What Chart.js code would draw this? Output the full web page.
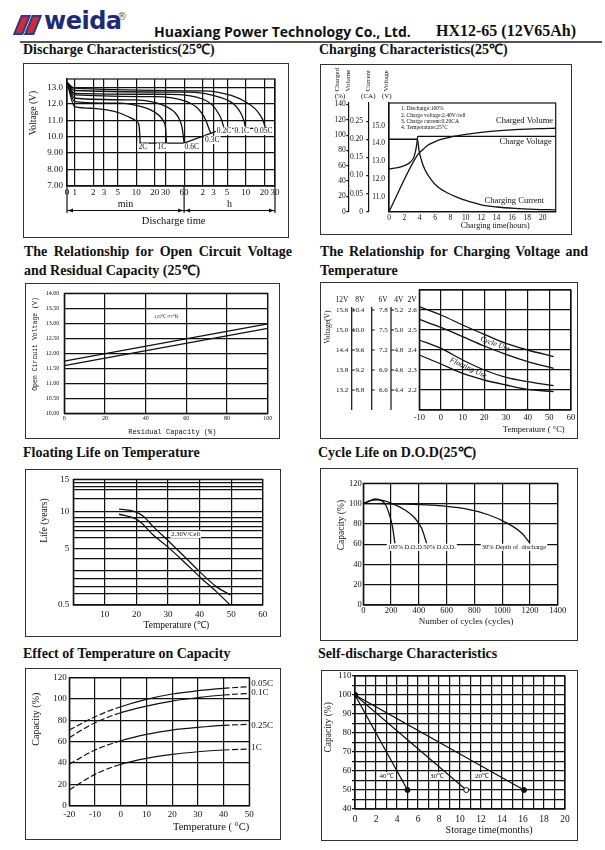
<!DOCTYPE html>
<html>
<head>
<meta charset="utf-8">
<title>HX12-65 (12V65Ah)</title>
<script src="https://cdn.jsdelivr.net/npm/chart.js@4.4.1/dist/chart.umd.min.js"></script>
<style>
  body { margin: 0; width: 605px; height: 850px; position: relative; background: #fff; overflow: hidden; color: #111; }
  .frame { position: absolute; box-sizing: border-box; border: 1px solid #333; }
  .frame canvas { position: absolute; left: 0; top: 0; }
  .ttl { position: absolute; font: bold 14px/16px "Liberation Serif", serif; white-space: nowrap; }
  .ttl2 { position: absolute; width: 268px; font: bold 14px/19px "Liberation Serif", serif; }
  .ttl2 .j { text-align: justify; text-align-last: justify; }
  .slash { position: absolute; top: 15px; width: 6px; height: 16px; background: #d42a2f; border: 2px solid #1d3f94; transform: skewX(-22deg); }
  .brand { position: absolute; left: 44px; top: 7px; font: bold 24px "DejaVu Sans", sans-serif; color: #1d2a78; letter-spacing: -0.5px; }
  .reg { position: absolute; left: 117px; top: 11px; font: 10px "DejaVu Sans", sans-serif; color: #666; }
  .co { position: absolute; left: 154px; top: 22px; font: bold 14px "Open Sans", sans-serif; white-space: nowrap; }
  .model { position: absolute; right: 29px; top: 22px; font: bold 16px "Liberation Serif", serif; white-space: nowrap; }
  .rule { position: absolute; left: 20px; top: 41px; width: 582px; height: 2px; background: #555; }
</style>
</head>
<body>
<span class="slash" style="left:17px"></span><span class="slash" style="left:28px"></span>
<span class="brand">weida</span><span class="reg">®</span>
<span class="co">Huaxiang Power Technology Co., Ltd.</span>
<span class="model">HX12-65 (12V65Ah)</span>
<div class="rule"></div>

<div class="ttl" style="left:23px;top:42px">Discharge Characteristics(25℃)</div>
<div class="ttl" style="left:319px;top:42px">Charging Characteristics(25℃)</div>
<div class="ttl2" style="left:24px;top:242px"><div class="j">The Relationship for Open Circuit Voltage</div><div>and Residual Capacity (25℃)</div></div>
<div class="ttl2" style="left:320px;top:242px"><div class="j">The Relationship for Charging Voltage and</div><div>Temperature</div></div>
<div class="ttl" style="left:23px;top:445px">Floating Life on Temperature</div>
<div class="ttl" style="left:318px;top:445px">Cycle Life on D.O.D(25℃)</div>
<div class="ttl" style="left:23px;top:646px">Effect of Temperature on Capacity</div>
<div class="ttl" style="left:318px;top:646px">Self-discharge Characteristics</div>

<div class="frame" style="left:23px;top:63px;width:266px;height:175px"><canvas id="c1" width="264" height="173"></canvas></div>
<div class="frame" style="left:320px;top:64px;width:252px;height:171px"><canvas id="c2" width="250" height="169"></canvas></div>
<div class="frame" style="left:25px;top:283px;width:255px;height:156px"><canvas id="c3" width="253" height="154"></canvas></div>
<div class="frame" style="left:320px;top:282px;width:258px;height:157px"><canvas id="c4" width="256" height="155"></canvas></div>
<div class="frame" style="left:25px;top:469px;width:256px;height:168px"><canvas id="c5" width="254" height="166"></canvas></div>
<div class="frame" style="left:320px;top:468px;width:258px;height:173px"><canvas id="c6" width="256" height="171"></canvas></div>
<div class="frame" style="left:25px;top:668px;width:256px;height:172px"><canvas id="c7" width="254" height="170"></canvas></div>
<div class="frame" style="left:321px;top:670px;width:257px;height:171px"><canvas id="c8" width="255" height="169"></canvas></div>

<script>
// ---------- 1. Discharge characteristics: [minutes, volts] ----------
const dischargeTimeTicks  = [0.75, 1, 2, 3, 5, 10, 20, 30, 60, 120, 180, 300, 600, 1200, 1800];
const dischargeTimeLabels = ['0', '1', '2', '3', '5', '10', '20', '30', '60', '2', '3', '5', '10', '20', '30'];
const dischargeVoltTicks  = [7, 8, 9, 10, 11, 12, 13];
const dischargeVoltLabels = ['7.00', '8.00', '9.00', '10.0', '11.0', '12.0', '13.0'];
const discharge2C   = [[0.75, 13.3], [1, 11.82], [2, 11.72], [3.3, 11.62], [5.5, 11.42], [8, 11.15], [10, 10.95], [11, 10.75], [11.4, 10.2], [11.6, 9.6]];
const discharge1C   = [[0.75, 13.3], [1, 12.13], [5.5, 12.03], [10, 11.9], [15, 11.72], [20, 11.48], [24.5, 11.22], [28, 10.9], [30, 10.5], [31, 9.6]];
const discharge06C  = [[0.75, 13.3], [1, 12.33], [10, 12.23], [20, 12.08], [31, 11.82], [43, 11.45], [51, 11.0], [56, 10.5], [60, 9.6]];
const discharge03C  = [[0.75, 13.3], [1, 12.53], [20, 12.43], [66, 12.13], [95, 11.8], [116, 11.42], [135, 11.0], [148, 10.6], [163, 10.2]];
const discharge02C  = [[0.75, 13.3], [1, 12.63], [36, 12.57], [123, 12.27], [175, 11.9], [216, 11.42], [245, 11.0], [267, 10.5]];
const discharge01C  = [[0.75, 13.3], [1, 12.8], [66, 12.7], [231, 12.39], [380, 12.0], [485, 11.52], [560, 11.0], [600, 10.5]];
const discharge005C = [[0.75, 13.3], [1, 12.94], [123, 12.78], [350, 12.5], [624, 12.07], [850, 11.7], [1025, 11.32], [1150, 11.0], [1260, 10.5]];
const dischargeCutoff = [[11.6, 9.6], [60, 9.6], [267, 10.5], [1260, 10.5]];
const dischargeRateNames = ['2C', '1C', '0.6C', '0.3C', '0.2C', '0.1C', '0.05C'];
const dischargeRateAt = [[12.8, 9.35], [26, 9.35], [80, 9.35], [172, 9.8], [267, 10.35], [518, 10.35], [1165, 10.35]];
const spanEdges = [0.75, 60, 1800];
const spanNames = ['min', 'h'];

// ---------- 2. Charging characteristics: [hours, value] ----------
const chargeHourTicks = [0, 2, 4, 6, 8, 10, 12, 14, 16, 18, 20];
const volumeTicks  = [0, 20, 40, 60, 80, 100, 120, 140];
const currentTicks = [0, 0.05, 0.10, 0.15, 0.20, 0.25];
const currentLabels = ['0', '0.05', '0.10', '0.15', '0.20', '0.25'];
const voltTicks  = [11, 12, 13, 14, 15];
const voltLabels = ['11.0', '12.0', '13.0', '14.0', '15.0'];
const chargedVolume  = [[0, 0], [3.7, 74], [4.5, 82], [5, 86.5], [6, 91.5], [7, 95], [8, 97.5], [10, 101], [12, 103.7], [14, 105.6], [16, 107], [18, 108], [20, 108.6], [21.7, 109]];
const chargeVoltage  = [[0, 12.57], [1, 12.62], [2, 12.75], [2.8, 12.95], [3.3, 13.3], [3.6, 13.9], [3.75, 14.4], [21.7, 14.4]];
const chargeCurrent  = [[0, 0.2], [3.7, 0.2], [3.9, 0.17], [4.25, 0.14], [4.7, 0.115], [5.5, 0.088], [6.5, 0.066], [7.7, 0.051], [9, 0.039], [10, 0.031], [12, 0.019], [14, 0.013], [16.4, 0.009], [19, 0.0065], [21.7, 0.005]];
const chargeNotes = ['1. Discharge:100%', '2. Charge voltage:2.40V/cell', '3. Charge current:0.20CA', '4. Temperature:25°C'];
const chargeCurveNames = ['Charged Volume', 'Charge Voltage', 'Charging Current'];
const chargeCurveNameAt = [[21.35, 15.3], [21.2, 14.11], [20.2, 10.77]];

// ---------- 3. Open circuit voltage vs residual capacity ----------
const ocvCapacityTicks = [0, 20, 40, 60, 80, 100];
const ocvVoltTicks = [10, 10.5, 11, 11.5, 12, 12.5, 13, 13.5, 14];
const ocvCapacity = [0, 100];
const ocvHigh = [11.74, 12.98];
const ocvLow  = [11.59, 12.83];

// ---------- 4. Charging voltage vs temperature (per 2 V cell) ----------
const cvTempTicks = [-10, 0, 10, 20, 30, 40, 50, 60];
const packNames = ['12V', '8V', '6V', '4V', '2V'];
const pack12Ticks = [13.2, 13.8, 14.4, 15.0, 15.6];
const pack8Ticks  = [8.8, 9.2, 9.6, 10.0, 10.4];
const pack6Ticks  = [6.6, 6.9, 7.2, 7.5, 7.8];
const pack4Ticks  = [4.4, 4.6, 4.8, 5.0, 5.2];
const cellTicks   = [2.1, 2.2, 2.3, 2.4, 2.5, 2.6, 2.7];
const cellLabels  = ['', '2.2', '2.3', '2.4', '2.5', '2.6', ''];
const cvTemp    = [-10, 0, 10, 20, 30, 40, 52];
const cycleHigh = [2.617, 2.575, 2.525, 2.478, 2.433, 2.4, 2.367];
const cycleLow  = [2.553, 2.513, 2.467, 2.42, 2.378, 2.342, 2.308];
const floatHigh = [2.45, 2.408, 2.35, 2.3, 2.263, 2.242, 2.222];
const floatLow  = [2.375, 2.33, 2.283, 2.25, 2.225, 2.203, 2.192];

// ---------- 5. Floating life vs temperature ----------
const lifeTempTicks  = [0, 10, 20, 30, 40, 50, 60];
const lifeTempLabels = ['', '10', '20', '30', '40', '50', '60'];
const lifeStops = [0.5, 5, 10, 15];
const lifeGrid  = [0.5, 1.4, 2, 2.6, 3.2, 4.2, 5, 6.4, 7.4, 8, 8.6, 9.2, 10, 12, 13.4, 13.9, 14.5, 15];
const lifeTempHigh = [14.5, 19.5, 22.1, 25.3, 29.8, 34.7, 40, 45.3, 49.8];
const lifeHigh     = [10.4, 10.0, 9.4, 7.95, 6.14, 4.47, 3.15, 1.96, 1.29];
const lifeTempLow  = [14.5, 19.5, 21.1, 25.3, 29.8, 34.7, 40, 45.3, 49.5];
const lifeLow      = [9.64, 9.09, 8.64, 6.82, 5.23, 4.02, 2.75, 1.56, 0.55];

// ---------- 6. Cycle life vs depth of discharge: [cycles, capacity %] ----------
const cycleTicks = [0, 200, 400, 600, 800, 1000, 1200, 1400];
const capTicks = [0, 20, 40, 60, 80, 100, 120];
const dod100 = [[0, 100], [36, 102], [84, 104.5], [132, 102.9], [161, 98.6], [185, 90.4], [209, 77.9], [228, 60.8]];
const dod50  = [[0, 100], [48, 102.9], [108, 103.6], [204, 100.3], [300, 93.7], [372, 85.5], [420, 75.6], [456, 60.8]];
const dod30  = [[0, 100], [250, 99.6], [490, 98.5], [730, 95], [900, 89], [1040, 80.5], [1140, 71], [1200, 61]];
const dodNames = ['100% D.O.D.', '50% D.O.D.', '30% Depth of  discharge'];
const dodNameAt = [[176, 56.9], [432, 56.9], [853, 56.9]];

// ---------- 7. Effect of temperature on capacity ----------
const effTempTicks = [-20, -10, 0, 10, 20, 30, 40, 50];
const effTemp = [-20, -10, 0, 10, 20, 30, 40, 50];
const cap005C = [70.9, 83.4, 92.8, 99.7, 104.7, 107.8, 110, 111.6];
const cap01C  = [64, 77.8, 87.2, 93.4, 98.1, 101.3, 103.8, 105.3];
const cap025C = [38.8, 52.2, 60.9, 66.9, 70.9, 73.4, 75.3, 76.3];
const cap1C   = [14.7, 29.4, 38.8, 44.4, 48.1, 50.6, 52.2, 53.1];
const effNames = ['0.05C', '0.1C', '0.25C', '1C'];
const effNameAt = [[50, 114.7], [50, 105.9], [50, 75.4], [50, 54.7]];

// ---------- 8. Self-discharge: [months, capacity %] ----------
const monthTicks = [0, 1, 2, 3, 4, 5, 6, 7, 8, 9, 10, 11, 12, 13, 14, 15, 16, 17, 18, 19, 20];
const sdCapTicks = [40, 45, 50, 55, 60, 65, 70, 75, 80, 85, 90, 95, 100, 105, 110];
const selfDis40 = [[0, 100], [5, 50]];
const selfDis30 = [[0, 100], [10.6, 50]];
const selfDis20 = [[0, 100], [16.1, 50]];
const sdNames = ['40℃', '30℃', '20℃'];
const sdNameAt = [[3.0, 57.4], [7.8, 57.4], [12.1, 57.4]];

// ---------------------------------------------------------------
const INK = '#111';
const SERIF = '"Liberation Serif", "Times New Roman", serif';
const MONO = '"Liberation Mono", monospace';

// The life axis of chart 5 is linear between its labelled values, which sit at
// fixed fractions of the axis height (it is neither linear nor logarithmic).
const lifeStopFractions = [0, 0.451, 0.743, 1];
class StepwiseScale extends Chart.LinearScale {
  getPixelForValue(value) {
    if (value === null || isNaN(value)) return NaN;
    let i = 1;
    while (i < lifeStops.length - 1 && value > lifeStops[i]) i++;
    const f = lifeStopFractions[i - 1] + (value - lifeStops[i - 1]) / (lifeStops[i] - lifeStops[i - 1]) * (lifeStopFractions[i] - lifeStopFractions[i - 1]);
    return this.getPixelForDecimal(f);
  }
  getValueForPixel(pixel) {
    const d = this.getDecimalForPixel(pixel);
    let i = 1;
    while (i < lifeStopFractions.length - 1 && d > lifeStopFractions[i]) i++;
    return lifeStops[i - 1] + (d - lifeStopFractions[i - 1]) / (lifeStopFractions[i] - lifeStopFractions[i - 1]) * (lifeStops[i] - lifeStops[i - 1]);
  }
}
StepwiseScale.id = 'stepwise';
StepwiseScale.defaults = Chart.LinearScale.defaults;
Chart.register(StepwiseScale);

function ticksAt(values) {
  return scale => { scale.ticks = values.map(v => ({value: v})); };
}
function fixSize(size) {
  return scale => {
    if (scale.isHorizontal()) scale.height = size; else scale.width = size;
    scale.paddingLeft = scale.paddingRight = scale.paddingTop = scale.paddingBottom = 0;
  };
}
function axis(o) {
  return {
    type: o.type || 'linear',
    position: o.position || 'left',
    weight: o.weight || 0,
    min: o.min, max: o.max, bounds: 'data',
    afterBuildTicks: ticksAt(o.ticks),
    afterFit: fixSize(o.size),
    grid: {color: INK, lineWidth: 1.2, drawTicks: !!o.tickLength, tickLength: o.tickLength || 0, drawOnChartArea: o.gridOn !== false},
    border: {display: o.border !== false, color: INK, width: 1.2},
    ticks: {
      autoSkip: false, maxRotation: 0, minRotation: 0, padding: o.pad, color: INK,
      font: {size: o.fs, family: o.family || SERIF},
      callback: (v, i) => o.labels[i]
    },
    title: o.title ? {
      display: true, text: o.title, align: o.titleAlign || 'center', color: INK,
      font: {size: o.titleSize, family: o.titleFamily || SERIF},
      padding: {top: o.titlePad, bottom: o.titlePad}
    } : {display: false}
  };
}
const str = arr => arr.map(String);
const zip = (xs, ys) => xs.map((x, i) => [x, ys[i]]);
function curve(pairs, extra) {
  return Object.assign({
    data: pairs.map(([x, y]) => ({x, y})),
    borderColor: INK, borderWidth: 1.3, pointRadius: 0, cubicInterpolationMode: 'monotone'
  }, extra);
}

// frame of the plotting area
Chart.register({
  id: 'plotBox',
  beforeDatasetsDraw(chart) {
    const {ctx, chartArea: a} = chart;
    ctx.save();
    ctx.strokeStyle = INK;
    ctx.lineWidth = 1.2;
    ctx.strokeRect(a.left, a.top, a.right - a.left, a.bottom - a.top);
    ctx.restore();
  }
});

// text placed at data coordinates
function notes(items) {
  return {
    id: 'notes',
    afterDatasetsDraw(chart) {
      const ctx = chart.ctx;
      items.forEach(n => {
        const px = chart.scales[n.xs || 'x'].getPixelForValue(n.x) + (n.dx || 0);
        const py = chart.scales[n.ys || 'y'].getPixelForValue(n.y) + (n.dy || 0);
        ctx.save();
        ctx.font = (n.style || '') + ' ' + n.size + 'px ' + (n.family || SERIF);
        ctx.translate(px, py);
        if (n.rot) ctx.rotate(n.rot * Math.PI / 180);
        ctx.textAlign = n.align || 'center';
        ctx.textBaseline = 'middle';
        if (n.bg) {
          const w = ctx.measureText(n.text).width;
          const x0 = n.align === 'left' ? 0 : n.align === 'right' ? -w : -w / 2;
          ctx.fillStyle = '#fff';
          ctx.fillRect(x0 - 1, -n.size * 0.55, w + 2, n.size * 1.1);
        }
        ctx.fillStyle = INK;
        ctx.fillText(n.text, 0, 0);
        ctx.restore();
      });
    }
  };
}

function draw(id, padding, scales, datasets, plugins) {
  return new Chart(document.getElementById(id), {
    type: 'line',
    data: {datasets},
    options: {
      responsive: false, animation: false, events: [],
      layout: {padding: Object.assign({left: 0, bottom: 0}, padding)},
      scales,
      plugins: {legend: {display: false}, tooltip: {enabled: false}}
    },
    plugins: plugins || []
  });
}

// ---------- chart 1 ----------
const timeSpans = {
  id: 'timeSpans',
  afterDraw(chart) {
    const {ctx, chartArea: a} = chart;
    const xs = spanEdges.map(v => chart.scales.x.getPixelForValue(v));
    const yLine = a.bottom + 24.5;
    ctx.save();
    ctx.strokeStyle = INK;
    ctx.fillStyle = INK;
    ctx.lineWidth = 1.2;
    ctx.beginPath();
    xs.forEach(px => { ctx.moveTo(px, a.bottom); ctx.lineTo(px, a.bottom + 27); });
    ctx.moveTo(xs[0], yLine);
    ctx.lineTo(xs[xs.length - 1], yLine);
    ctx.stroke();
    ctx.font = '10px ' + SERIF;
    ctx.textAlign = 'center';
    ctx.textBaseline = 'middle';
    spanNames.forEach((name, i) => {
      const l = xs[i], r = xs[i + 1];
      ctx.beginPath();
      ctx.moveTo(l + 1, yLine); ctx.lineTo(l + 6, yLine - 2); ctx.lineTo(l + 6, yLine + 2);
      ctx.moveTo(r - 1, yLine); ctx.lineTo(r - 6, yLine - 2); ctx.lineTo(r - 6, yLine + 2);
      ctx.fill();
      ctx.fillText(name, (l + r) / 2, a.bottom + 18);
    });
    ctx.restore();
  }
};
draw('c1', {top: 15, right: 13}, {
  x: axis({type: 'logarithmic', position: 'bottom', min: 0.75, max: 1800, ticks: dischargeTimeTicks, labels: dischargeTimeLabels,
           size: 51, fs: 9, pad: 1, title: '  Discharge time', titleSize: 10.5, titlePad: 9}),
  y: axis({min: 7, max: 13.5, ticks: dischargeVoltTicks, labels: dischargeVoltLabels, size: 43, fs: 9, pad: 4,
           title: 'Voltage (V)     ', titleAlign: 'end', titleSize: 9.5, titlePad: 4})
}, [
  curve(discharge2C), curve(discharge1C), curve(discharge06C), curve(discharge03C),
  curve(discharge02C), curve(discharge01C), curve(discharge005C),
  curve(dischargeCutoff, {cubicInterpolationMode: 'default', tension: 0})
], [timeSpans, notes(dischargeRateNames.map((t, i) => ({text: t, x: dischargeRateAt[i][0], y: dischargeRateAt[i][1], size: 7.5, bg: true})))]);

// ---------- chart 2 ----------
const chargeHeads = {
  id: 'chargeHeads',
  afterDraw(chart) {
    const {ctx, chartArea: a} = chart;
    const heads = [
      {axis: 'yVol', names: ['Charged', 'Volume'], dx: [-11.6, 0], unit: '(%)', udx: -8.3},
      {axis: 'yCur', names: ['Current'], dx: [0], unit: '(CA)', udx: 0},
      {axis: 'yVolt', names: ['Voltage'], dx: [-3.3], unit: '(V)', udx: -2.3}
    ];
    ctx.save();
    ctx.fillStyle = INK;
    ctx.font = '7px ' + SERIF;
    ctx.textBaseline = 'middle';
    heads.forEach(h => {
      const s = chart.scales[h.axis];
      h.names.forEach((nm, k) => {
        ctx.save();
        ctx.translate(s.right + h.dx[k], a.top - 11.6);
        ctx.rotate(-Math.PI / 2);
        ctx.textAlign = 'left';
        ctx.fillText(nm, 0, 0);
        ctx.restore();
      });
      ctx.textAlign = 'center';
      ctx.fillText(h.unit, s.right + h.udx, a.top - 6.6);
    });
    ctx.restore();
  }
};
const chargeNoteItems = chargeNotes.map((t, i) => ({text: t, x: 1.56, y: 15.94, dy: i * 6.3, ys: 'yVolt', size: 5.6, align: 'left'}));
const chargeNameItems = chargeCurveNames.map((t, i) => ({text: t, x: chargeCurveNameAt[i][0], y: chargeCurveNameAt[i][1], ys: 'yVolt', size: 8.5, align: 'right'}));
draw('c2', {top: 38, right: 15.3, left: 10}, {
  x: axis({position: 'bottom', min: 0, max: 21.7, ticks: chargeHourTicks, labels: str(chargeHourTicks), size: 22.3, fs: 7.5, pad: 1.5,
           gridOn: false, title: 'Charging time(hours)             ', titleAlign: 'end', titleSize: 8, titlePad: 2.9}),
  yVolt: axis({weight: 0, min: 10.15, max: 16.28, ticks: voltTicks, labels: voltLabels, size: 20.7, fs: 7.5, pad: 4, gridOn: false}),
  yCur: axis({weight: 1, min: 0, max: 0.30, ticks: currentTicks, labels: currentLabels, size: 20, fs: 7.5, pad: 3.3, tickLength: 2, gridOn: false}),
  yVol: axis({weight: 2, min: 0, max: 142, ticks: volumeTicks, labels: str(volumeTicks), size: 17.3, fs: 7.5, pad: 0.6, tickLength: 2, gridOn: false})
}, [
  curve(chargedVolume, {yAxisID: 'yVol'}),
  curve(chargeVoltage, {yAxisID: 'yVolt'}),
  curve(chargeCurrent, {yAxisID: 'yCur'})
], [chargeHeads, notes(chargeNoteItems.concat(chargeNameItems))]);

// ---------- chart 3 ----------
draw('c3', {top: 9.3, right: 11.3}, {
  x: axis({position: 'bottom', min: 0, max: 100, ticks: ocvCapacityTicks, labels: str(ocvCapacityTicks), size: 24.7, fs: 6, pad: 1.4,
           title: '   Residual Capacity (%)', titleSize: 7, titleFamily: MONO, titlePad: 1.5}),
  y: axis({min: 10, max: 14, ticks: ocvVoltTicks, labels: ocvVoltTicks.map(v => v.toFixed(2)), size: 38.3, fs: 6, pad: 5,
           title: 'Open Circuit Voltage (V) ', titleAlign: 'end', titleSize: 6.5, titleFamily: MONO, titlePad: 5})
}, [
  curve(zip(ocvCapacity, ocvHigh), {borderWidth: 1.2}),
  curve(zip(ocvCapacity, ocvLow), {borderWidth: 1.2})
], [notes([{text: '(25℃/77℉)', x: 50.3, y: 13.22, size: 5}])]);

// ---------- chart 4 ----------
const voltRails = {
  id: 'voltRails',
  afterDraw(chart) {
    const {ctx, chartArea: a, scales} = chart;
    const cell = scales.y;
    const top = cell.getPixelForValue(2.6) - 3;
    ctx.save();
    ctx.strokeStyle = INK;
    ctx.lineWidth = 1.2;
    ctx.beginPath();
    ['y12', 'y8', 'y6'].forEach(id => {
      const x = scales[id].right;
      ctx.moveTo(x, top);
      ctx.lineTo(x, a.bottom);
      cellTicks.slice(1, -1).forEach(v => {
        const y = cell.getPixelForValue(v);
        ctx.moveTo(x, y);
        ctx.lineTo(x + 3, y);
      });
    });
    ctx.stroke();
    ctx.fillStyle = INK;
    ctx.font = '7.5px ' + SERIF;
    ctx.textAlign = 'right';
    ctx.textBaseline = 'middle';
    ['y12', 'y8', 'y6', 'y4', 'y'].forEach((id, i) => {
      const s = scales[id];
      ctx.fillText(packNames[i], s.right - s.options.ticks.padding, cell.getPixelForValue(2.65));
    });
    ctx.restore();
  }
};
const railAxis = {gridOn: false, border: false, fs: 7};
const onCell = {yAxisID: 'y'};
draw('c4', {top: 7, right: 6}, {
  x: axis({position: 'bottom', min: -10, max: 60, ticks: cvTempTicks, labels: str(cvTempTicks), size: 28, fs: 8.5, pad: 3,
           title: 'Temperature ( °C)   ', titleAlign: 'end', titleSize: 8.5, titlePad: 3.3}),
  y12: axis(Object.assign({weight: 4, min: 12.6, max: 16.2, ticks: pack12Ticks, labels: pack12Ticks.map(v => v.toFixed(1)), size: 30.7, pad: 3.4,
           title: 'Voltage(V)           ', titleAlign: 'end', titleSize: 7.5, titlePad: 2.8}, railAxis)),
  y8: axis(Object.assign({weight: 3, min: 8.4, max: 10.8, ticks: pack8Ticks, labels: pack8Ticks.map(v => v.toFixed(1)), size: 20, pad: 7.4}, railAxis)),
  y6: axis(Object.assign({weight: 2, min: 6.3, max: 8.1, ticks: pack6Ticks, labels: pack6Ticks.map(v => v.toFixed(1)), size: 19.3, pad: 3.3}, railAxis)),
  y4: axis(Object.assign({weight: 1, min: 4.2, max: 5.4, ticks: pack4Ticks, labels: pack4Ticks.map(v => v.toFixed(1)), size: 14, pad: 1.7}, railAxis)),
  y: axis({weight: 0, min: 2.1, max: 2.7, ticks: cellTicks, labels: cellLabels, size: 14.3, fs: 7, pad: 2.6})
}, [
  curve(zip(cvTemp, cycleHigh), onCell), curve(zip(cvTemp, cycleLow), onCell),
  curve(zip(cvTemp, floatHigh), onCell), curve(zip(cvTemp, floatLow), onCell)
], [voltRails, notes([
  {text: 'Cycle Use', x: 24.9, y: 2.43, size: 7.5, style: 'italic', rot: 20.5},
  {text: 'Floating Use', x: 12.6, y: 2.31, size: 7.5, style: 'italic', rot: 24.8}
])]);

// ---------- chart 5 ----------
draw('c5', {top: 9.3, right: 17.3}, {
  x: axis({position: 'bottom', min: 0, max: 60, ticks: lifeTempTicks, labels: lifeTempLabels, size: 31, fs: 9, pad: 3.8,
           title: '       Temperature (℃)', titleSize: 9.5, titlePad: 5.3}),
  y: axis({type: 'stepwise', min: 0.5, max: 15, ticks: lifeGrid, labels: lifeGrid.map(v => lifeStops.includes(v) ? String(v) : ''),
           size: 47.3, fs: 9, pad: 4, title: 'Life (years)        ', titleAlign: 'end', titleSize: 9.5, titlePad: 13})
}, [
  curve(zip(lifeTempHigh, lifeHigh)), curve(zip(lifeTempLow, lifeLow))
], [notes([{text: '2.30V/Cell', x: 35.6, y: 6.9, size: 6.5, bg: true}])]);

// ---------- chart 6 ----------
draw('c6', {top: 14.3, right: 19.3}, {
  x: axis({position: 'bottom', min: 0, max: 1400, ticks: cycleTicks, labels: str(cycleTicks), size: 35, fs: 8.5, pad: 1,
           title: '     Number of cycles (cycles)', titleSize: 9, titlePad: 12.6}),
  y: axis({min: 0, max: 120, ticks: capTicks, labels: str(capTicks), size: 42.3, fs: 8.5, pad: 1.6,
           title: 'Capacity (%)       ', titleAlign: 'end', titleSize: 9.5, titlePad: 15})
}, [
  curve(dod100), curve(dod50), curve(dod30)
], [notes(dodNames.map((t, i) => ({text: t, x: dodNameAt[i][0], y: dodNameAt[i][1], size: 6.5, align: 'left', bg: true})))]);

// ---------- chart 7 ----------
const dashOuter = {borderDash: c => (c.p0.parsed.x < 0 || c.p1.parsed.x > 40) ? [6, 2.5] : undefined};
draw('c7', {top: 8.7, right: 30.7}, {
  x: axis({position: 'bottom', min: -20, max: 50, ticks: effTempTicks, labels: str(effTempTicks), size: 33.3, fs: 9, pad: 3.8,
           title: 'Temperature ( °C)', titleAlign: 'end', titleSize: 10.5, titlePad: 5.7}),
  y: axis({min: 0, max: 120, ticks: capTicks, labels: str(capTicks), size: 43.3, fs: 9, pad: 2.6,
           title: 'Capacity (%)      ', titleAlign: 'end', titleSize: 10, titlePad: 4.7})
}, [
  curve(zip(effTemp, cap005C), {segment: dashOuter, borderWidth: 1.2}),
  curve(zip(effTemp, cap01C), {segment: dashOuter, borderWidth: 1.2}),
  curve(zip(effTemp, cap025C), {segment: dashOuter, borderWidth: 1.2}),
  curve(zip(effTemp, cap1C), {segment: dashOuter, borderWidth: 1.2})
], [notes(effNames.map((t, i) => ({text: t, x: effNameAt[i][0], y: effNameAt[i][1], dx: 2, size: 9, align: 'left'})))]);

// ---------- chart 8 ----------
const dot = {pointRadius: 2.5, pointBackgroundColor: INK, pointBorderColor: INK, pointBorderWidth: 1, cubicInterpolationMode: 'default', tension: 0};
draw('c8', {top: 4.7, right: 12}, {
  x: axis({position: 'bottom', min: 0, max: 20, ticks: monthTicks, labels: monthTicks.map(v => v % 2 ? '' : String(v)), size: 31, fs: 9.5, pad: 4.6,
           title: 'Storage time(months)             ', titleAlign: 'end', titleSize: 10, titlePad: 3.3}),
  y: axis({min: 40, max: 110, ticks: sdCapTicks, labels: sdCapTicks.map(v => v % 10 ? '' : String(v)), size: 33, fs: 9, pad: 0.5, tickLength: 3,
           title: 'Capacity (%)           ', titleAlign: 'end', titleSize: 9.5, titlePad: 0.3})
}, [
  curve(selfDis40, dot),
  curve(selfDis30, Object.assign({}, dot, {pointBackgroundColor: [INK, '#fff']})),
  curve(selfDis20, dot)
], [notes(sdNames.map((t, i) => ({text: t, x: sdNameAt[i][0], y: sdNameAt[i][1], size: 7, bg: true})))]);
</script>
</body>
</html>
